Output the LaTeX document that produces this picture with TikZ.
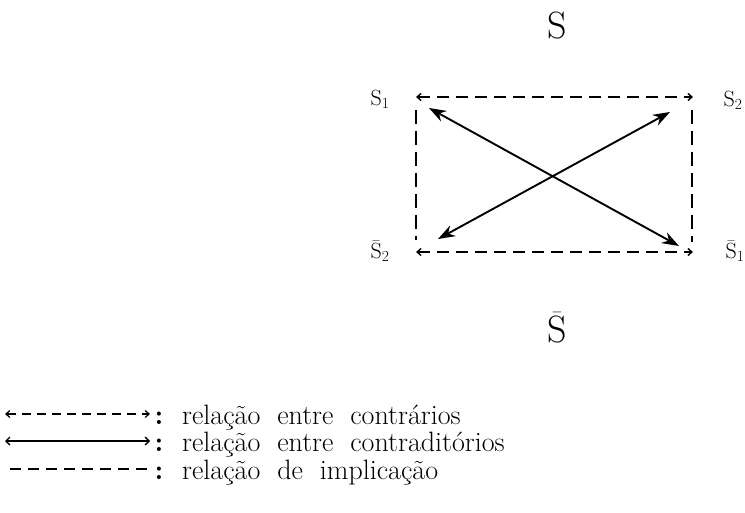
\documentclass[tikz,border=0pt]{standalone}
\usepackage{fontspec}
\usetikzlibrary{arrows.meta}
\begin{document}
\begin{tikzpicture}[x=1pt,y=-1pt,
  big/.style={font=\fontsize{38}{42}\selectfont, inner sep=0pt},
  lab/.style={font=\fontsize{22}{26}\selectfont, inner sep=0pt},
  legtext/.style={font=\fontsize{28}{32}\selectfont, inner sep=0pt, anchor=base west},
  colon/.style={font=\fontsize{28}{32}\selectfont\bfseries, inner sep=0pt, anchor=base},
  contr/.style={line width=1.4pt, dash pattern=on 12pt off 7pt, {Straight Barb[length=4pt,width=7pt]}-{Straight Barb[length=4pt,width=7pt]}},
  implic/.style={line width=2pt, dash pattern=on 14pt off 7pt},
  contrad/.style={line width=1.9pt, {Stealth[length=17pt,width=12pt]}-{Stealth[length=17pt,width=12pt]}},
  legcontrad/.style={line width=1.3pt, {Straight Barb[length=4pt,width=8pt]}-{Straight Barb[length=4pt,width=8pt]}}
]
\useasboundingbox (0,0) rectangle (745,513);
% titles
\node[big] (S) at (557,26) {S};
\node[big] (Sbar) at (557,328) {$\bar{\mathrm{S}}$};
% corner labels
\node[lab] (s1) at (380,99) {S\textsubscript{1}};
\node[lab] (s2) at (733,100) {S\textsubscript{2}};
\node[lab] (s2b) at (380,251) {$\bar{\mathrm{S}}$\textsubscript{2}};
\node[lab] (s1b) at (735,251) {$\bar{\mathrm{S}}$\textsubscript{1}};
% corners
\coordinate (tl) at (416,97);
\coordinate (tr) at (693,97);
\coordinate (bl) at (416,252);
\coordinate (br) at (693,252);
\coordinate (tlv) at (416,110);
\coordinate (blv) at (416,240);
\coordinate (trv) at (692,110);
\coordinate (brv) at (692,242);
% contraries
\draw[contr] (tl) -- (tr);
\draw[contr] (bl) -- (br);
% implication
\draw[implic] (tlv) -- (blv);
\draw[implic] (trv) -- (brv);
% contradictories
\coordinate (d1a) at (429,108);
\coordinate (d1b) at (679,246);
\coordinate (d2a) at (438,239);
\coordinate (d2b) at (670,112);
\draw[contrad] (d1a) -- (d1b);
\draw[contrad] (d2a) -- (d2b);
% legend
\coordinate (l1a) at (5,414); \coordinate (l1b) at (150,414);
\coordinate (l2a) at (5,441); \coordinate (l2b) at (150,441);
\coordinate (l3a) at (10,469); \coordinate (l3b) at (150,469);
\draw[contr, line width=1.2pt, dash pattern=on 9pt off 6pt] (l1a) -- (l1b);
\draw[legcontrad] (l2a) -- (l2b);
\draw[implic, line width=1.6pt, dash pattern=on 11pt off 7pt] (l3a) -- (l3b);
\node[colon] (c1) at (159,424) {:};
\node[colon] (c2) at (159,451) {:};
\node[colon] (c3) at (159,479) {:};
\node[legtext] (t1) at (182,424) {relação\ \ entre\ \ contrários};
\node[legtext] (t2) at (182,451) {relação\ \ entre\ \ contraditórios};
\node[legtext] (t3) at (182,479) {relação\ \ de\ \ implicação};
\end{tikzpicture}
\end{document}
